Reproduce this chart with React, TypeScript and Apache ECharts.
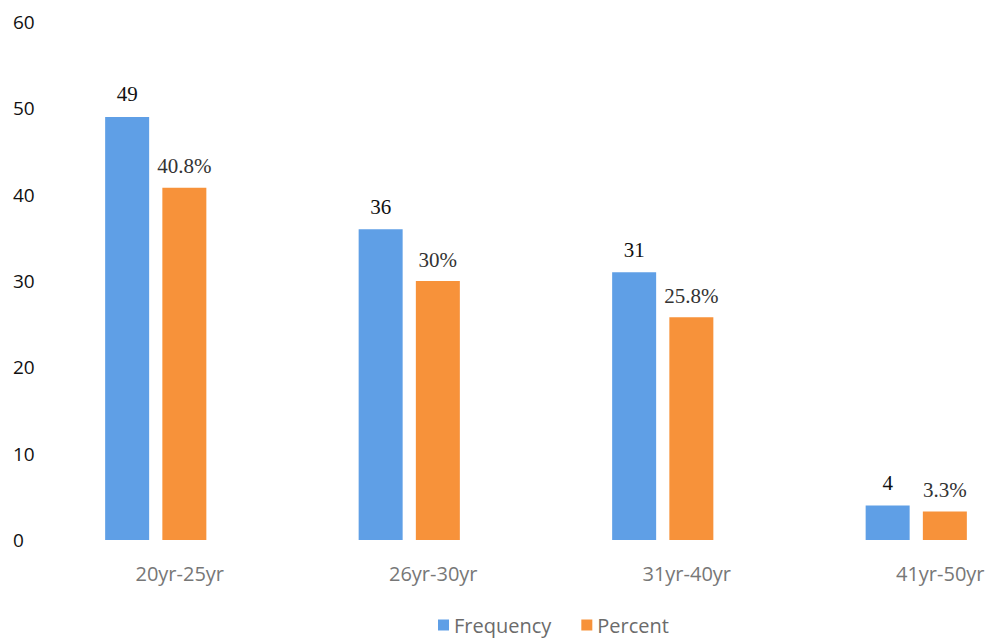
import React, { useEffect, useRef } from "react";
import * as echarts from "echarts";

const categories = ["20yr-25yr", "26yr-30yr", "31yr-40yr", "41yr-50yr"];
const frequency = [49, 36, 31, 4];
const percent = [40.8, 30, 25.8, 3.3];
const yTicks = [0, 10, 20, 30, 40, 50, 60];

export default function App() {
  const ref = useRef<HTMLDivElement>(null);
  useEffect(() => {
    const chart = echarts.init(ref.current!, null, { renderer: "svg" });
    chart.setOption({
      animation: false,
      backgroundColor: "#ffffff",
      grid: { left: 29, width: 1014, top: 22, bottom: 103, containLabel: false },
      legend: {
        left: 433,
        top: 610,
        itemWidth: 11,
        itemHeight: 11,
        itemGap: 30,
        icon: "rect",
        textStyle: { fontFamily: "Open Sans", fontSize: 20, color: "#6b6b6b" },
        data: ["Frequency", "Percent"],
      },
      xAxis: {
        type: "category",
        data: categories,
        axisLine: { show: false },
        axisTick: { show: false },
        axisLabel: {
          margin: 23,
          padding: [0, 0, 0, 48],
          fontFamily: "Open Sans",
          fontSize: 20,
          color: "#777777",
        },
      },
      yAxis: {
        type: "value",
        min: yTicks[0],
        max: yTicks[yTicks.length - 1],
        interval: 10,
        splitLine: { show: false },
        axisLine: { show: false },
        axisTick: { show: false },
        axisLabel: {
          align: "left",
          margin: 16,
          fontFamily: "Open Sans",
          fontSize: 19,
          color: "#111111",
        },
      },
      series: [
        {
          name: "Frequency",
          type: "bar",
          data: frequency,
          barWidth: 44,
          barGap: "30%",
          itemStyle: { color: "#5f9fe6" },
          label: {
            show: true,
            position: "top",
            distance: 12,
            fontFamily: "Liberation Serif",
            fontSize: 21,
            color: "#111111",
          },
        },
        {
          name: "Percent",
          type: "bar",
          data: percent,
          barWidth: 44,
          itemStyle: { color: "#f7923a" },
          label: {
            show: true,
            position: "top",
            distance: 11,
            fontFamily: "Liberation Serif",
            fontSize: 21,
            color: "#333333",
            formatter: (p: any) => p.value + "%",
          },
        },
      ],
    });
    return () => chart.dispose();
  }, []);
  return (
    <div style={{ width: 995, height: 643, position: "absolute", left: 0, top: 0, overflow: "hidden", background: "#fff" }}>
      <div ref={ref} style={{ width: 1060, height: 643 }} />
    </div>
  );
}
